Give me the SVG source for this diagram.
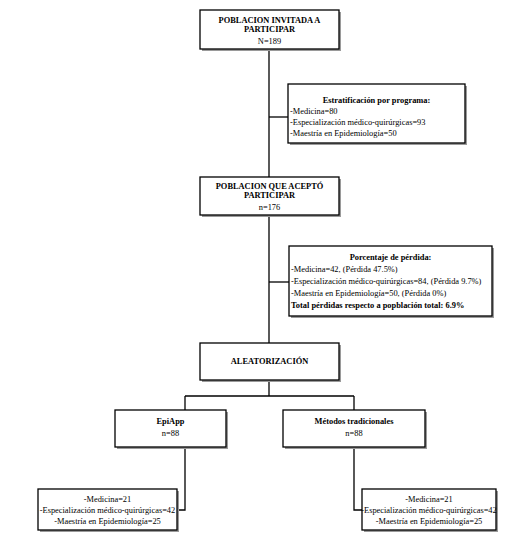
<svg xmlns="http://www.w3.org/2000/svg" width="522" height="541" viewBox="0 0 522 541">
<defs>
<style>
.box{fill:#fff;stroke:#000;stroke-width:1.3}
.sh{fill:#9a9a9a;stroke:none}
.t{font-family:"Liberation Serif","Times New Roman",serif;font-size:8.4px;fill:#000}
.b{font-weight:bold}
.c{text-anchor:middle}
.ln{fill:none;stroke:#000;stroke-width:1.3}
</style>
</defs>
<rect width="522" height="541" fill="#fff"/>
<g id="connectors">
<line class="ln" x1="269" y1="49" x2="269" y2="343"/>
<line class="ln" x1="269" y1="117" x2="288" y2="117"/>
<line class="ln" x1="269" y1="282" x2="289" y2="282"/>
<line class="ln" x1="269" y1="380" x2="269" y2="396"/>
<line class="ln" x1="185" y1="396" x2="354" y2="396"/>
<line class="ln" x1="185" y1="396" x2="185" y2="410"/>
<line class="ln" x1="354" y1="396" x2="354" y2="410"/>
<polyline class="ln" points="185,447 185,510 177,510"/>
<polyline class="ln" points="354,447 354,510 362,510"/>
</g>
<g id="n1">
<rect class="sh" x="202" y="12" width="139" height="39"/>
<rect class="box" x="200" y="10" width="139" height="39"/>
<text class="t b c" x="269.5" y="23">POBLACION INVITADA  A</text>
<text class="t b c" x="269.5" y="32">PARTICIPAR</text>
<text class="t c" x="269.5" y="44">N=189</text>
</g>
<g id="n2">
<rect class="sh" x="290" y="86" width="177" height="59"/>
<rect class="box" x="288" y="84" width="177" height="59"/>
<text class="t b c" x="376.5" y="103">Estratificación por programa:</text>
<text class="t" x="290" y="114">-Medicina=80</text>
<text class="t" x="290" y="125">-Especialización médico-quirúrgicas=93</text>
<text class="t" x="290" y="136">-Maestría en Epidemiología=50</text>
</g>
<g id="n3">
<rect class="sh" x="202" y="179" width="139" height="38"/>
<rect class="box" x="200" y="177" width="139" height="38"/>
<text class="t b c" x="269.5" y="189">POBLACION QUE ACEPTÓ</text>
<text class="t b c" x="269.5" y="198">PARTICIPAR</text>
<text class="t c" x="269.5" y="210">n=176</text>
</g>
<g id="n4">
<rect class="sh" x="291" y="248" width="203" height="70"/>
<rect class="box" x="289" y="246" width="203" height="70"/>
<text class="t b c" x="390.5" y="260">Porcentaje de pérdida:</text>
<text class="t" x="291" y="272">-Medicina=42, (Pérdida 47.5%)</text>
<text class="t" x="291" y="284">-Especialización médico-quirúrgicas=84, (Pérdida 9.7%)</text>
<text class="t" x="291" y="296">-Maestría en Epidemiología=50, (Pérdida 0%)</text>
<text class="t b" x="291" y="308">Total pérdidas respecto a popblación total: 6.9%</text>
</g>
<g id="n5">
<rect class="sh" x="202" y="345" width="139" height="37"/>
<rect class="box" x="200" y="343" width="139" height="37"/>
<text class="t b c" x="269.5" y="364">ALEATORIZACIÓN</text>
</g>
<g id="n6">
<rect class="sh" x="117" y="412" width="111" height="37"/>
<rect class="box" x="115" y="410" width="111" height="37"/>
<text class="t b c" x="170.5" y="424">EpiApp</text>
<text class="t c" x="170.5" y="436">n=88</text>
</g>
<g id="n7">
<rect class="sh" x="285" y="412" width="142" height="37"/>
<rect class="box" x="283" y="410" width="142" height="37"/>
<text class="t b c" x="354" y="424">Métodos tradicionales</text>
<text class="t c" x="354" y="436">n=88</text>
</g>
<g id="n8">
<rect class="sh" x="40" y="491" width="139" height="41"/>
<rect class="box" x="38" y="489" width="139" height="41"/>
<text class="t c" x="107.5" y="502">-Medicina=21</text>
<text class="t c" x="107.5" y="513">-Especialización médico-quirúrgicas=42</text>
<text class="t c" x="107.5" y="524">-Maestría en Epidemiología=25</text>
</g>
<g id="n9">
<rect class="sh" x="364" y="491" width="134" height="41"/>
<rect class="box" x="362" y="489" width="134" height="41"/>
<text class="t c" x="429" y="502">-Medicina=21</text>
<text class="t c" x="429" y="513">-Especialización médico-quirúrgicas=42</text>
<text class="t c" x="429" y="524">-Maestría en Epidemiología=25</text>
</g>
</svg>
